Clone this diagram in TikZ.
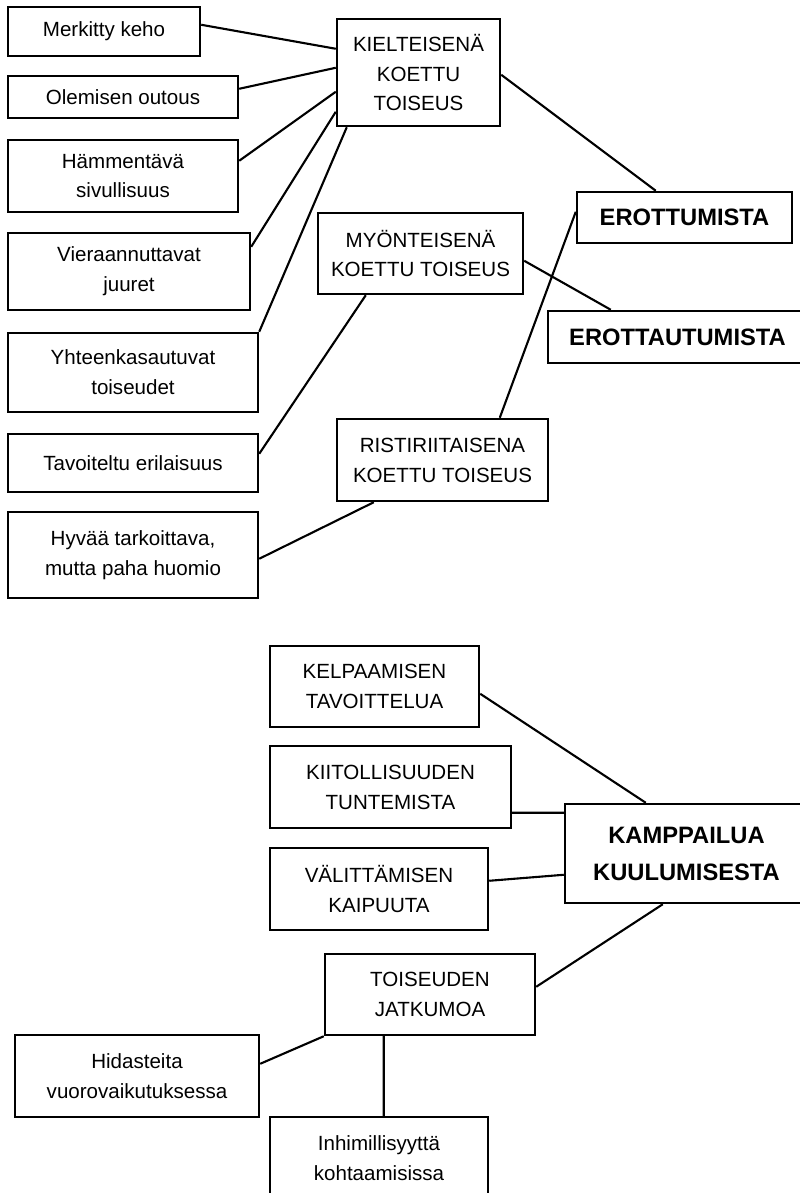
\documentclass[tikz,border=0pt]{standalone}
\usepackage{fontspec}
\setmainfont{Liberation Sans}
\usetikzlibrary{calc}

\begin{document}
\begin{tikzpicture}[x=0.02cm, y=-0.02cm,
    box/.style={draw, line width=1.4pt, inner sep=0pt, align=center,
                font={\fontsize{11.7}{17}\selectfont}},
    bigbox/.style={box, font={\fontsize{13.5}{21}\selectfont\bfseries}},
    wh/.style 2 args={minimum width=#1*0.02cm, minimum height=#2*0.02cm},
    link/.style={line width=1.2pt}]
      \useasboundingbox (0, 0) rectangle (800, 1193);
      % upper half
      \node (merk) [box, wh={192}{49}] at (104, 31.5) {Merkitty keho};
      \node (olem) [box, wh={230}{42}] at (123, 97) {Olemisen outous};
      \node (hamm) [box, wh={230}{72}] at (123, 176) {Hämmentävä\\sivullisuus};
      \node (vier) [box, wh={242}{77}] at (129, 271.5) {Vieraannuttavat\\juuret};
      \node (yhte) [box, wh={250}{79}] at (133, 372.5) {Yhteenkasautuvat\\toiseudet};
      \node (tavo) [box, wh={250}{58}] at (133, 463) {Tavoiteltu erilaisuus};
      \node (hyva) [box, wh={250}{86}] at (133, 555) {Hyvää tarkoittava,\\mutta paha huomio};
      \node (kielt) [box, wh={163}{107}] at (418.5, 72.5) {KIELTEISENÄ\\KOETTU\\TOISEUS};
      \node (myon) [box, wh={205}{81}] at (420.5, 253.5) {MYÖNTEISENÄ\\KOETTU TOISEUS};
      \node (risti) [box, wh={211}{82}] at (442.5, 460) {RISTIRIITAISENA\\KOETTU TOISEUS};
      \node (erott) [bigbox, wh={215}{51}] at (684.5, 217.5) {EROTTUMISTA};
      \node (erota) [bigbox, wh={259}{52}] at (677.5, 337) {EROTTAUTUMISTA};
      \draw [link] ($(merk.north east)+(0, 19)$) -- ($(kielt.north west)+(0, 31)$)
                   ($(olem.north east)+(0, 14)$) -- ($(kielt.north west)+(0, 50)$)
                   ($(hamm.north east)+(0, 22)$) -- ($(kielt.north west)+(0, 74)$)
                   ($(vier.north east)+(0, 15)$) -- ($(kielt.north west)+(0, 94)$)
                   (yhte.north east) -- ($(kielt.south west)+(11, 0)$)
                   ($(kielt.north east)+(0, 57)$) -- ($(erott.north west)+(80, 0)$)
                   ($(tavo.north east)+(0, 21)$) -- ($(myon.south west)+(49, 0)$)
                   ($(myon.north east)+(0, 49)$) -- ($(erota.north west)+(64, 0)$)
                   ($(risti.north west)+(164, 0)$) -- ($(erott.north west)+(0, 21)$)
                   ($(hyva.north east)+(0, 48)$) -- ($(risti.south west)+(38, 0)$);
      % lower half
      \node (kelp) [box, wh={209}{81}] at (374.5, 686.5) {KELPAAMISEN\\TAVOITTELUA};
      \node (kiit) [box, wh={241}{82}] at (390.5, 787) {KIITOLLISUUDEN\\TUNTEMISTA};
      \node (valit) [box, wh={218}{82}] at (379, 889) {VÄLITTÄMISEN\\KAIPUUTA};
      \node (kamp) [bigbox, wh={243}{99}] at (686.5, 853.5) {KAMPPAILUA\\KUULUMISESTA};
      \node (tois) [box, wh={210}{81}] at (430, 994.5) {TOISEUDEN\\JATKUMOA};
      \node (hida) [box, wh={244}{82}] at (137, 1076) {Hidasteita\\vuorovaikutuksessa};
      \node (inhi) [box, wh={218}{82}] at (379, 1158) {Inhimillisyyttä\\kohtaamisissa};
      \draw [link] ($(kelp.north east)+(0, 49)$) -- ($(kamp.north west)+(82, 0)$)
                   ($(kiit.north east)+(0, 68)$) -- ($(kamp.north west)+(0, 10)$)
                   ($(valit.north east)+(0, 34)$) -- ($(kamp.north west)+(0, 72)$)
                   ($(tois.north east)+(0, 34)$) -- ($(kamp.south west)+(99, 0)$)
                   (tois.south west) -- ($(hida.north east)+(0, 30)$)
                   ($(tois.south west)+(60, 0)$) -- ($(inhi.north west)+(115, 0)$);
\end{tikzpicture}
\end{document}
